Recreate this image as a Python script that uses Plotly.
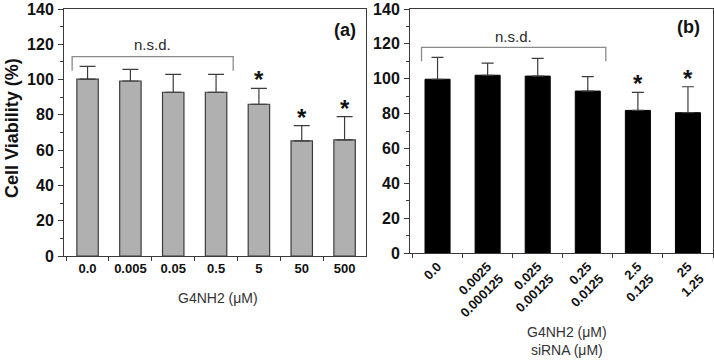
import plotly.graph_objects as go

# ---------------- data ----------------
cats_a = ["0.0", "0.005", "0.05", "0.5", "5", "50", "500"]
vals_a = [100.2, 99.2, 92.8, 92.8, 86.0, 65.2, 65.8]
err_a = [7.3, 6.6, 10.2, 10.2, 9.0, 8.7, 13.2]
sig_a = [False, False, False, False, True, True, True]

cats_b = ["0.0", "0.0025<br>0.000125", "0.025<br>0.00125", "0.25<br>0.0125",
          "2.5<br>0.125", "25<br>1.25"]
vals_b = [99.7, 102.0, 101.5, 92.9, 81.8, 80.5]
err_b = [12.6, 7.0, 10.2, 8.3, 10.4, 14.9]
sig_b = [False, False, False, False, True, True]

y_ticks = [0, 20, 40, 60, 80, 100, 120, 140]

FONT = "Liberation Sans, Arial, sans-serif"
AX = "#3a3a3a"

fig = go.Figure()

fig.add_trace(go.Bar(
    x=cats_a, y=vals_a, width=0.5,
    marker=dict(color="#b0b0b0", line=dict(color="#3c3c3c", width=1.2)),
    error_y=dict(type="data", symmetric=False, array=err_a,
                 arrayminus=[0] * len(err_a), color="#3c3c3c",
                 thickness=1.2, width=8),
    xaxis="x", yaxis="y", showlegend=False))

fig.add_trace(go.Bar(
    x=cats_b, y=vals_b, width=0.5,
    marker=dict(color="#000000", line=dict(color="#000000", width=1)),
    error_y=dict(type="data", symmetric=False, array=err_b,
                 arrayminus=[0] * len(err_b), color="#3c3c3c",
                 thickness=1.2, width=6),
    xaxis="x2", yaxis="y2", showlegend=False))

yax = dict(range=[0, 140], tickvals=y_ticks, ticks="outside", ticklen=5,
           tickwidth=1, tickcolor=AX, showline=True, linecolor=AX,
           linewidth=1, mirror=True, showgrid=False, zeroline=False,
           automargin=False,
           tickfont=dict(family=FONT, size=16, color="#111", weight="bold"),
           minor=dict(dtick=10, ticks="outside", ticklen=3, tickcolor=AX),
           ticklabelstandoff=1)

xax = dict(type="category", tickson="boundaries", ticks="outside",
           ticklen=4, tickcolor=AX, showline=True, linecolor=AX,
           linewidth=1, mirror=True, showgrid=False, automargin=False,
           tickfont=dict(family=FONT, size=13, color="#111", weight="bold"))

fig.update_layout(
    width=714, height=360,
    margin=dict(l=0, r=0, t=0, b=0, autoexpand=False),
    paper_bgcolor="white", plot_bgcolor="white",
    xaxis=dict(domain=[64 / 714, 366 / 714], range=[-0.55, 6.5],
               anchor="y", **xax),
    yaxis=dict(domain=[(360 - 256) / 360, (360 - 9) / 360], anchor="x",
               **yax),
    xaxis2=dict(domain=[410 / 714, 713 / 714], range=[-0.55, 5.5],
                tickangle=-45, anchor="y2", **xax),
    yaxis2=dict(domain=[(360 - 253) / 360, (360 - 9) / 360], anchor="x2",
                **yax),
)

annos = []
# n.s.d. brackets
for xr, yr, x0, x1, ytop, ybot, ty in [
        ("x", "y", -0.36, 3.4, 113, 105, 120),
        ("x2", "y2", -0.32, 3.36, 118, 110, 124.5)]:
    fig.add_shape(type="path", xref=xr, yref=yr,
                  path=f"M {x0} {ybot} L {x0} {ytop} L {x1} {ytop} L {x1} {ybot}",
                  line=dict(color="#8a8a8a", width=1.3))
    annos.append(dict(x=(x0 + x1) / 2, y=ty, xref=xr, yref=yr,
                      text="n.s.d.", showarrow=False,
                      xanchor="center", yanchor="middle",
                      font=dict(family=FONT, size=15, color="#2a2a2a")))

# asterisks
for cats, vals, errs, sig, xr, yr in [
        (cats_a, vals_a, err_a, sig_a, "x", "y"),
        (cats_b, vals_b, err_b, sig_b, "x2", "y2")]:
    for i, s in enumerate(sig):
        if s:
            annos.append(dict(x=i, y=vals[i] + errs[i], xref=xr, yref=yr,
                              text="*", showarrow=False, yanchor="bottom",
                              xanchor="center", yshift=-7,
                              font=dict(family=FONT, size=24, color="#111",
                                        weight="bold")))

def P(x, y, text, size, color="#111", bold=True, angle=0):
    return dict(x=x / 714, y=(360 - y) / 360, xref="paper", yref="paper",
                xanchor="center", yanchor="middle", text=text,
                showarrow=False, textangle=angle,
                font=dict(family=FONT, size=size, color=color,
                          weight="bold" if bold else "normal"))

annos.append(P(345, 30, "(a)", 18))
annos.append(P(688, 27, "(b)", 18))
annos.append(P(12, 128, "Cell Viability (%)", 18, angle=-90))
annos.append(P(218, 298, "G4NH2 (μM)", 14, color="#333", bold=False))
annos.append(P(567, 341, "G4NH2 (μM)<br>siRNA (μM)", 14, color="#333",
               bold=False))

fig.update_layout(annotations=annos)

fig.write_html("out.html", config={"displayModeBar": False},
               post_script="document.body.style.margin='0';"
                           "document.body.style.overflow='hidden';")
